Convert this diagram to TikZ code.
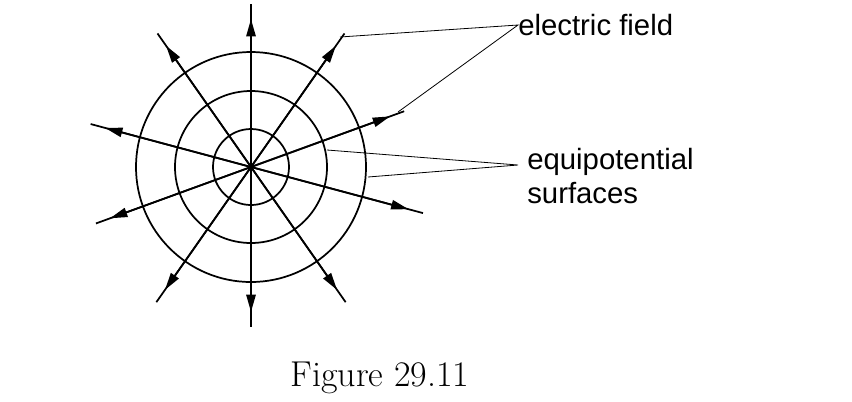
\documentclass[tikz,border=0pt]{standalone}
\usepackage{fontspec}
\setmainfont{Liberation Sans}
\newfontfamily\capfont{Latin Modern Roman}
\usetikzlibrary{arrows.meta}
\tikzset{
  field/.style = {line width=1.3pt, -{Triangle[length=13pt,width=7pt]}},
  surface/.style = {line width=1.3pt},
  pointer/.style = {line width=0.6pt},
  label/.style = {anchor=west, font=\fontsize{22}{25}\selectfont, align=left, inner sep=0pt}
}
\begin{document}
\begin{tikzpicture}[x=0.75pt, y=-0.75pt]
\useasboundingbox (0,0) rectangle (852,401);
% CHARGE
\coordinate (O) at (251,167);
% SURFACES
\foreach \r in {38,76,115}
  \draw[surface] (O) circle[radius=\r*0.75pt];
% FIELD LINES
\foreach \a/\l in {90/163,55/163,125/163,20/163,-15/178,270/160,235/165,305/165,200/165,165/166}{
  \draw[field] (O) -- ++(-\a:\l-15);
  \draw[surface] (O) -- ++(-\a:\l);
}
% LABELS
\node[label] (field) at (518,25) {electric field};
\node[label] (equi) at (527,176) {equipotential\\surfaces};
\coordinate (f1) at (340,37);
\coordinate (f2) at (398,112);
\coordinate (e1) at (327,150);
\coordinate (e2) at (368,177);
\draw[pointer] (f1) -- (field.west) -- (f2);
\draw[pointer] (e1) -- (518,165) -- (e2);
% CAPTION
\node[font=\capfont\fontsize{27}{30}\selectfont] (cap) at (380,378) {Figure 29.11};
\end{tikzpicture}
\end{document}
